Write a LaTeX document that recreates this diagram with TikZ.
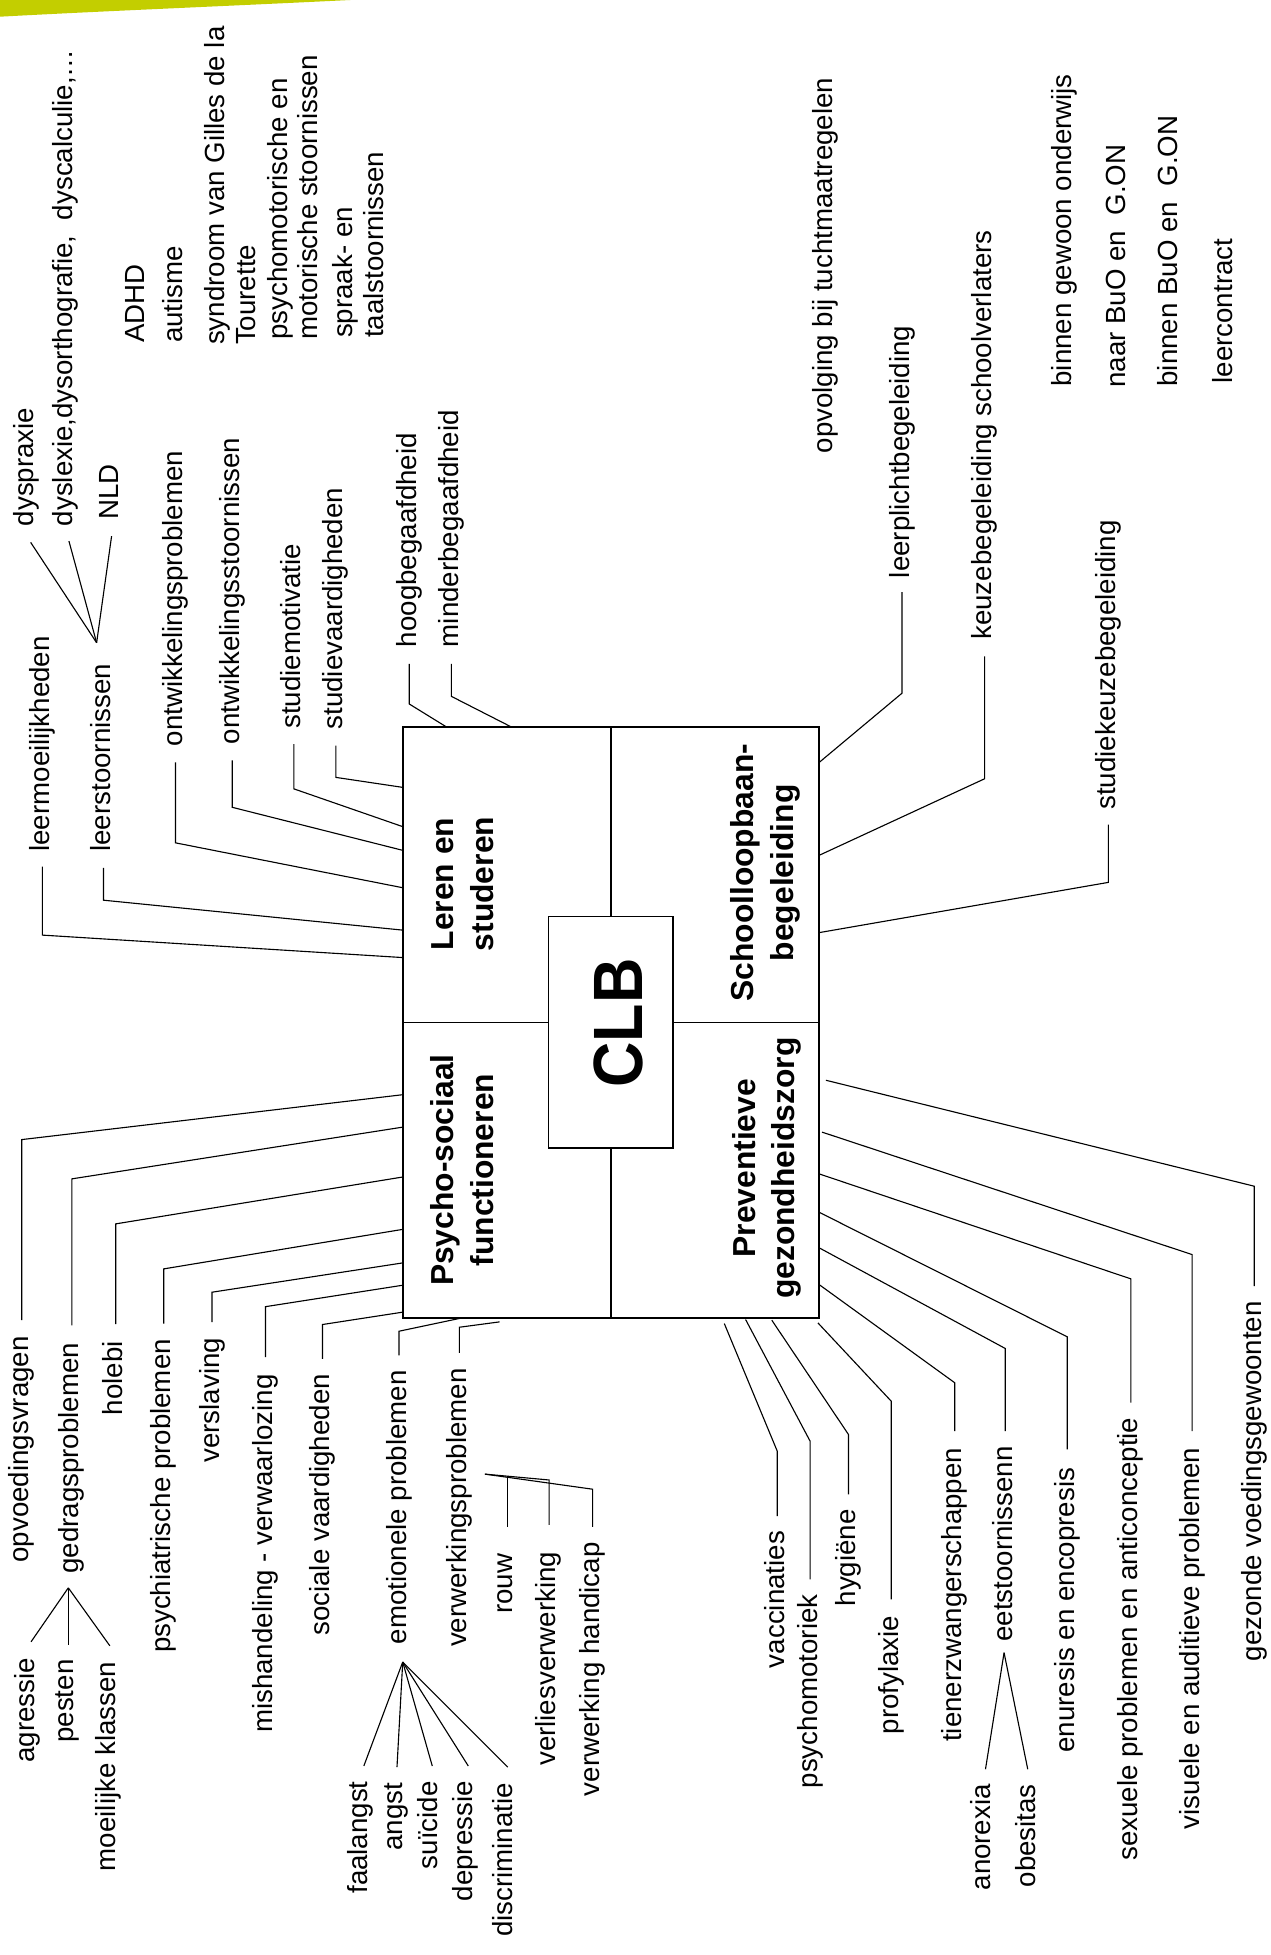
\documentclass[tikz,border=0pt]{standalone}
\usepackage{fontspec}
\setmainfont{Liberation Sans}
\definecolor{swoosh}{HTML}{C3CE00}
\newcommand{\lblfont}{\fontsize{22.2}{24.5}\selectfont}
\newcommand{\quadfont}{\fontsize{25.5}{32}\selectfont\bfseries}
\tikzset{
 lbl/.style={rotate=90, font=\lblfont, inner sep=0pt, outer sep=0pt, text height=16pt, text depth=4.7pt},
 blk/.style={rotate=90, font=\lblfont, inner sep=0pt, outer sep=0pt, align=left},
 quad/.style={rotate=90, font=\quadfont, inner sep=0pt, align=center},
 conn/.style={line width=0.9pt, line join=miter},
 boxline/.style={line width=1.4pt},
}
\begin{document}
\begin{tikzpicture}[x=1pt,y=-1pt]
\useasboundingbox (0,0) rectangle (1019,1568);
\fill[swoosh] (0,0) -- (281,0) .. controls (180,5) and (80,9) .. (0,13.4) -- cycle;

% main box
\node[draw, boxline, minimum width=334pt, minimum height=474pt, inner sep=0pt, outer sep=0pt] (box) at (490,820) {};
\node[draw, boxline, minimum width=100pt, minimum height=186pt, inner sep=0pt, outer sep=0pt] (clbbox) at (490,828) {};
\draw[boxline] (box.north) -- (box.north |- clbbox.north);
\draw[boxline] (box.south) -- (box.south |- clbbox.south);
\draw[boxline] (box.west) -- (box.west -| clbbox.west);
\draw[boxline] (box.east) -- (box.east -| clbbox.east);
\node[rotate=90, inner sep=0pt] (clb) at (495.7,820.5) {\scalebox{0.9}[1]{\fontsize{56}{56}\selectfont\bfseries CLB}};
\node[quad] (q1) at (371,709) {Leren en\\studeren};
\node[quad] (q2) at (371,938.5) {Psycho-sociaal\\functioneren};
\node[quad] (q3) at (614,700) {Schoolloopbaan-\\begeleiding};
\node[quad] (q4) at (615,937) {Preventieve\\gezondheidszorg};

% Leren en studeren
\node[lbl, anchor=west] (lm) at (34,683) {leermoeilijkheden};
\node[lbl, anchor=west] (ls) at (83,683) {leerstoornissen};
\node[lbl, anchor=west] (dp) at (21.4,422) {dyspraxie};
\node[lbl, anchor=west] (dl) at (52.8,422) {dyslexie,dysorthografie,\ \ dyscalculie,…};
\node[lbl, anchor=west] (nld) at (89,417) {NLD};
\node[lbl, anchor=west] (op) at (140.8,598.5) {ontwikkelingsproblemen};
\node[lbl, anchor=west] (os) at (186.3,596.8) {ontwikkelingsstoornissen};
\node[lbl, anchor=west] (sm) at (235.7,584.5) {studiemotivatie};
\node[lbl, anchor=west] (sv) at (269.4,585) {studievaardigheden};
\node[lbl, anchor=west] (hb) at (328.2,519) {hoogbegaafdheid};
\node[lbl, anchor=west] (mb) at (362,519) {minderbegaafdheid};
\draw[conn] (lm.west) ++(0,12) -- (lm.west |- 0,750) -- (box.west |- 0,768);
\draw[conn] (ls.west) ++(0,13) -- (ls.west |- 0,722) -- (box.west |- 0,746);
\coordinate (lsA) at (77.5,515.5);
\draw[conn] (dp.west) ++(3.2,13) -- (lsA);
\draw[conn] (dl.west) ++(2.5,12) -- (lsA);
\draw[conn] (nld.west) ++(0.5,13) -- (lsA);
\draw[conn] (op.west) ++(0,13) -- (op.west |- 0,676) -- (box.west |- 0,712);
\draw[conn] (os.west) ++(0,13) -- (os.west |- 0,647.5) -- (box.west |- 0,682);
\draw[conn] (sm.west) ++(0,12.3) -- (sm.west |- 0,632.7) -- (box.west |- 0,663);
\draw[conn] (sv.west) ++(0,13) -- (sv.west |- 0,623.5) -- (box.west |- 0,631.5);
\draw[conn] (hb.west) ++(0,13.5) -- (hb.west |- 0,564.6) -- (box.north -| 358,0);
\draw[conn] (mb.west) ++(0,13.5) -- (mb.west |- 0,558.5) -- (box.north -| 410,0);

% top lists
\node[lbl, anchor=west] (adhd) at (110,275) {ADHD};
\node[lbl, anchor=west] (aut) at (141,275) {autisme};
\node[blk, anchor=west] (syn) at (184.5,276.6) {syndroom van Gilles de la\\Tourette};
\node[blk, anchor=west] (psm) at (234.5,272.6) {psychomotorische en\\motorische stoornissen};
\node[blk, anchor=west] (spr) at (287,271) {spraak- en\\taalstoornissen};

% Schoolloopbaanbegeleiding
\node[lbl, anchor=west] (ovt) at (662,363.5) {opvolging bij tuchtmaatregelen};
\node[lbl, anchor=west] (lp) at (723.4,463.6) {leerplichtbegeleiding};
\node[lbl, anchor=west] (kb) at (789.7,513) {keuzebegeleiding schoolverlaters};
\node[lbl, anchor=west] (sk) at (889,649.4) {studiekeuzebegeleiding};
\node[lbl, anchor=west] (bgo) at (854,310) {binnen gewoon onderwijs};
\node[lbl, anchor=west] (nbu) at (897,311) {naar BuO en\ \ G.ON};
\node[lbl, anchor=west] (bbu) at (939,310) {binnen BuO en\ \ G.ON};
\node[lbl, anchor=west] (lc) at (982.5,307.5) {leercontract};
\draw[conn] (lp.west) ++(0,11.4) -- (lp.west |- 0,556) -- (box.east |- 0,611.5);
\draw[conn] (kb.west) ++(0,13.5) -- (kb.west |- 0,624.6) -- (box.east |- 0,686);
\draw[conn] (sk.west) ++(0,12) -- (sk.west |- 0,707.7) -- (box.east |- 0,748);

% Psycho-sociaal functioneren
\node[lbl, anchor=east] (ov) at (17.4,1071.7) {opvoedingsvragen};
\node[lbl, anchor=east] (gp) at (57.6,1077) {gedragsproblemen};
\node[lbl, anchor=east] (ho) at (92.8,1075.7) {holebi};
\node[lbl, anchor=east] (pp) at (131.3,1074) {psychiatrische problemen};
\node[lbl, anchor=east] (vs) at (170,1073) {verslaving};
\node[lbl, anchor=east] (mv) at (212.9,1102.4) {mishandeling - verwaarlozing};
\node[lbl, anchor=east] (sov) at (258.7,1102) {sociale vaardigheden};
\node[lbl, anchor=east] (ep) at (320,1099) {emotionele problemen};
\node[lbl, anchor=east] (wp) at (368.4,1097.6) {verwerkingsproblemen};
\draw[conn] (ov.east) ++(0,-13) -- (ov.east |- 0,914) -- (box.west |- 0,878);
\draw[conn] (gp.east) ++(0,-14) -- (gp.east |- 0,945.5) -- (box.west |- 0,904);
\draw[conn] (ho.east) ++(0,-13.7) -- (ho.east |- 0,981.6) -- (box.west |- 0,944);
\draw[conn] (pp.east) ++(0,-12.5) -- (pp.east |- 0,1017.7) -- (box.west |- 0,986);
\draw[conn] (vs.east) ++(0,-12.6) -- (vs.east |- 0,1036.4) -- (box.west |- 0,1012.9);
\draw[conn] (mv.east) ++(0,-13.9) -- (mv.east |- 0,1048) -- (box.west |- 0,1030.8);
\draw[conn] (sov.east) ++(0,-12.2) -- (sov.east |- 0,1062.3) -- (box.west |- 0,1052.4);
\draw[conn] (ep.east) ++(0,-12) -- (ep.east |- 0,1067.7) -- (box.south -| 370.6,0);
\coordinate (wpE) at (400.7,1060.2);
\draw[conn] (wp.east) ++(0,-12.6) -- (wp.east |- 0,1064.5) -- (wpE);

\node[lbl, anchor=east] (ag) at (22,1329.8) {agressie};
\node[lbl, anchor=east] (pe) at (53.5,1331) {pesten};
\node[lbl, anchor=east] (mk) at (87,1332.9) {moeilijke klassen};
\coordinate (gpA) at (54.8,1273.5);
\draw[conn] (ag.east) ++(2.9,-13) -- (gpA);
\draw[conn] (pe.east) ++(1.3,-12) -- (gpA);
\draw[conn] (mk.east) ++(1.1,-12.9) -- (gpA);

\node[lbl, anchor=east] (fa) at (289,1428.7) {faalangst};
\node[lbl, anchor=east] (an) at (317,1430) {angst};
\node[lbl, anchor=east] (su) at (345,1428.7) {suïcide};
\node[lbl, anchor=east] (de) at (373,1428.7) {depressie};
\node[lbl, anchor=east] (di) at (405,1430) {discriminatie};
\coordinate (epA) at (323,1333);
\draw[conn] (fa.east) ++(2.8,-12.3) -- (epA);
\draw[conn] (an.east) ++(1.4,-12.7) -- (epA);
\draw[conn] (su.east) ++(1.7,-12.3) -- (epA);
\draw[conn] (de.east) ++(2.6,-12.3) -- (epA);
\draw[conn] (di.east) ++(2.2,-12.7) -- (epA);

\node[lbl, anchor=east] (ro) at (405.5,1246.3) {rouw};
\node[lbl, anchor=east] (vv) at (440,1244.7) {verliesverwerking};
\node[lbl, anchor=east] (vh) at (475,1237) {verwerking handicap};
\coordinate (wpA) at (388.9,1182.3);
\coordinate (wpB) at (440.4,1187);
\coordinate (wpC) at (475.3,1194.4);
\coordinate (wpD) at (407.2,1184);
\draw[conn] (vv.east) ++(0.4,-21.7) -- (wpB) -- (wpA);
\draw[conn] (vh.east) ++(0.3,-12.3) -- (wpC) -- (wpA);
\draw[conn] (ro.east) ++(1.7,-21.6) -- (wpD);

% Preventieve gezondheidszorg
\node[lbl, anchor=east] (gv) at (1006,1043.6) {gezonde voedingsgewoonten};
\node[lbl, anchor=east] (vp) at (956.1,1161) {visuele en auditieve problemen};
\node[lbl, anchor=east] (sp) at (907,1137) {sexuele problemen en anticonceptie};
\node[lbl, anchor=east] (ee) at (856,1177.2) {enuresis en encopresis};
\node[lbl, anchor=east] (es) at (806.2,1160) {eetstoornissenn};
\node[lbl, anchor=east] (tz) at (765.7,1161.2) {tienerzwangerschappen};
\node[lbl, anchor=east] (pf) at (714.8,1296) {profylaxie};
\node[lbl, anchor=east] (hy) at (680.5,1210.6) {hygiëne};
\node[lbl, anchor=east] (pm) at (649.7,1278.8) {psychomotoriek};
\node[lbl, anchor=east] (va) at (623.4,1228) {vaccinaties};
\node[lbl, anchor=east] (ax) at (789,1431) {anorexia};
\node[lbl, anchor=east] (ob) at (825,1431) {obesitas};
\coordinate (gvE) at (662.4,866.4);
\draw[conn] (gv.east) ++(0,-12) -- (gv.east |- 0,951.4) -- (gvE);
\coordinate (vpE) at (659.3,908);
\draw[conn] (vp.east) ++(0,-13.2) -- (vp.east |- 0,1006.2) -- (vpE);
\draw[conn] (sp.east) ++(0,-12) -- (sp.east |- 0,1025.7) -- (box.east |- 0,941.5);
\draw[conn] (ee.east) ++(0,-14.7) -- (ee.east |- 0,1072.2) -- (box.east |- 0,972.3);
\draw[conn] (es.east) ++(0,-12.2) -- (es.east |- 0,1081.5) -- (box.east |- 0,1000.8);
\draw[conn] (tz.east) ++(0,-13.4) -- (tz.east |- 0,1109) -- (box.east |- 0,1030.3);
\coordinate (pfE) at (656,1061);
\draw[conn] (pf.east) ++(0,-13.2) -- (pf.east |- 0,1123.8) -- (pfE);
\coordinate (hyE) at (619,1058.8);
\draw[conn] (hy.east) ++(0,-12) -- (hy.east |- 0,1150.5) -- (hyE);
\coordinate (pmE) at (598,1058.3);
\draw[conn] (pm.east) ++(0,-12.1) -- (pm.east |- 0,1155.8) -- (pmE);
\coordinate (vaE) at (580.9,1061.5);
\draw[conn] (va.east) ++(0,-12) -- (va.east |- 0,1163.9) -- (vaE);
\coordinate (esA) at (805.3,1325.5);
\draw[conn] (ax.east) ++(1.4,-12) -- (esA);
\draw[conn] (ob.east) ++(-0.7,-12) -- (esA);
\end{tikzpicture}
\end{document}
